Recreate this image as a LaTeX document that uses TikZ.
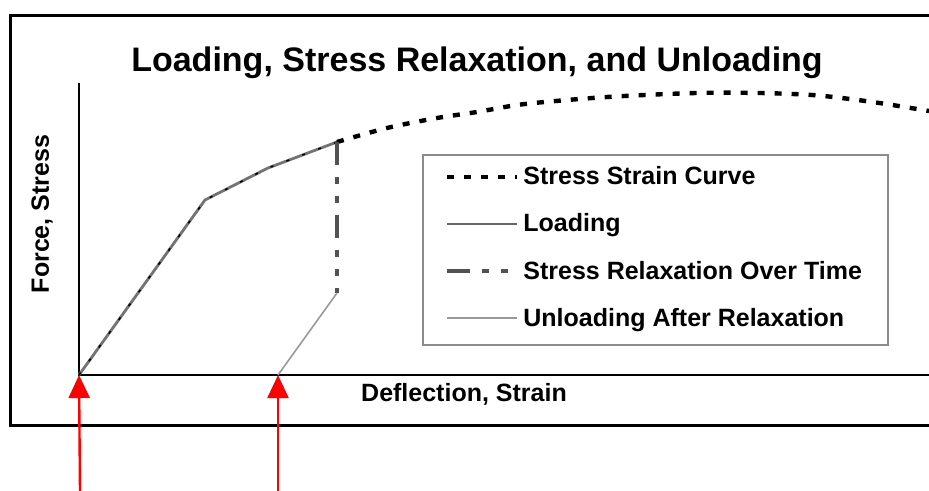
\documentclass[tikz,border=0pt]{standalone}
\usepackage{fontspec}
\setmainfont{Liberation Sans}
\usetikzlibrary{arrows.meta, positioning}

\begin{document}
\begin{tikzpicture}[x=0.5pt, y=-0.5pt,
    every node/.style={font=\bfseries\fontsize{12.5}{15}\selectfont, inner sep=0pt},
    ssc/.style={line width=2.2pt, dash pattern=on 3.5pt off 5pt},
    loadline/.style={line width=1.4pt, black!55},
    relax/.style={line width=2pt, black!68, dash pattern=on 11.5pt off 6pt on 3.5pt off 6pt on 3.5pt off 6pt},
    unload/.style={line width=0.8pt, black!40},
    marker/.style={red, line width=1.2pt, -{Triangle[length=11.5pt, width=10.5pt]}}]
    \useasboundingbox (0,0) rectangle (929,491);

    % frame and axes
    \draw[line width=1.5pt] (929,16) -- (10,16) -- (10,425) -- (929,425);
    \coordinate (o)    at (79,375);
    \coordinate (ytop) at (79,83);
    \coordinate (xend) at (929,375);
    \draw[line width=1.2pt] (ytop) -- (o) -- (xend);

    \node[font=\bfseries\fontsize{17}{20}\selectfont] (title) at (477,63) {Loading, Stress Relaxation, and Unloading};
    \node[rotate=90] (ylab) at (42,214) {Force, Stress};
    \node (xlab) at (464,394) {Deflection, Strain};

    % curve points
    \coordinate (knee) at (205,200);
    \coordinate (bend) at (268,168);
    \coordinate (top)  at (337,142);
    \coordinate (hold) at (337,293);
    \coordinate (rest) at (278,375);

    \draw[loadline] (o) -- (knee) -- (bend) -- (top);
    \draw[line width=0.8pt, dash pattern=on 1.5pt off 7pt] (o) -- (knee) -- (bend) -- (top);
    \draw[ssc] plot[smooth] coordinates {(top) (387,128) (437,118) (477,112) (525,104)
        (607,97) (696,93) (760,93) (812,95) (850,99) (886,104) (929,111)};
    \draw[relax] (top) -- (hold);
    \draw[unload] (hold) -- (rest);

    % markers
    \coordinate (m1) at (80,491);
    \coordinate (m2) at (278,491);
    \draw[marker] (m1) -- (o);
    \draw[marker] (m2) -- (rest);

    % legend
    \node[draw=black!45, line width=1pt, minimum width=232.5pt, minimum height=95pt] (legend) at (655.5,250) {};
    \node[anchor=base west] (k1) at (523,185) {Stress Strain Curve};
    \node[anchor=base west] (k2) at (523,232) {Loading};
    \node[anchor=base west] (k3) at (523,279) {Stress Relaxation Over Time};
    \node[anchor=base west] (k4) at (523,326) {Unloading After Relaxation};
    \draw[ssc] ([xshift=-38pt, yshift=4pt]k1.base west) -- ([xshift=-3pt, yshift=4pt]k1.base west);
    \draw[line width=0.8pt, black!60] ([xshift=-38pt, yshift=4pt]k2.base west) -- ([xshift=-3pt, yshift=4pt]k2.base west);
    \draw[relax] ([xshift=-38pt, yshift=4pt]k3.base west) -- ([xshift=-3pt, yshift=4pt]k3.base west);
    \draw[unload] ([xshift=-38pt, yshift=4pt]k4.base west) -- ([xshift=-3pt, yshift=4pt]k4.base west);
\end{tikzpicture}
\end{document}
